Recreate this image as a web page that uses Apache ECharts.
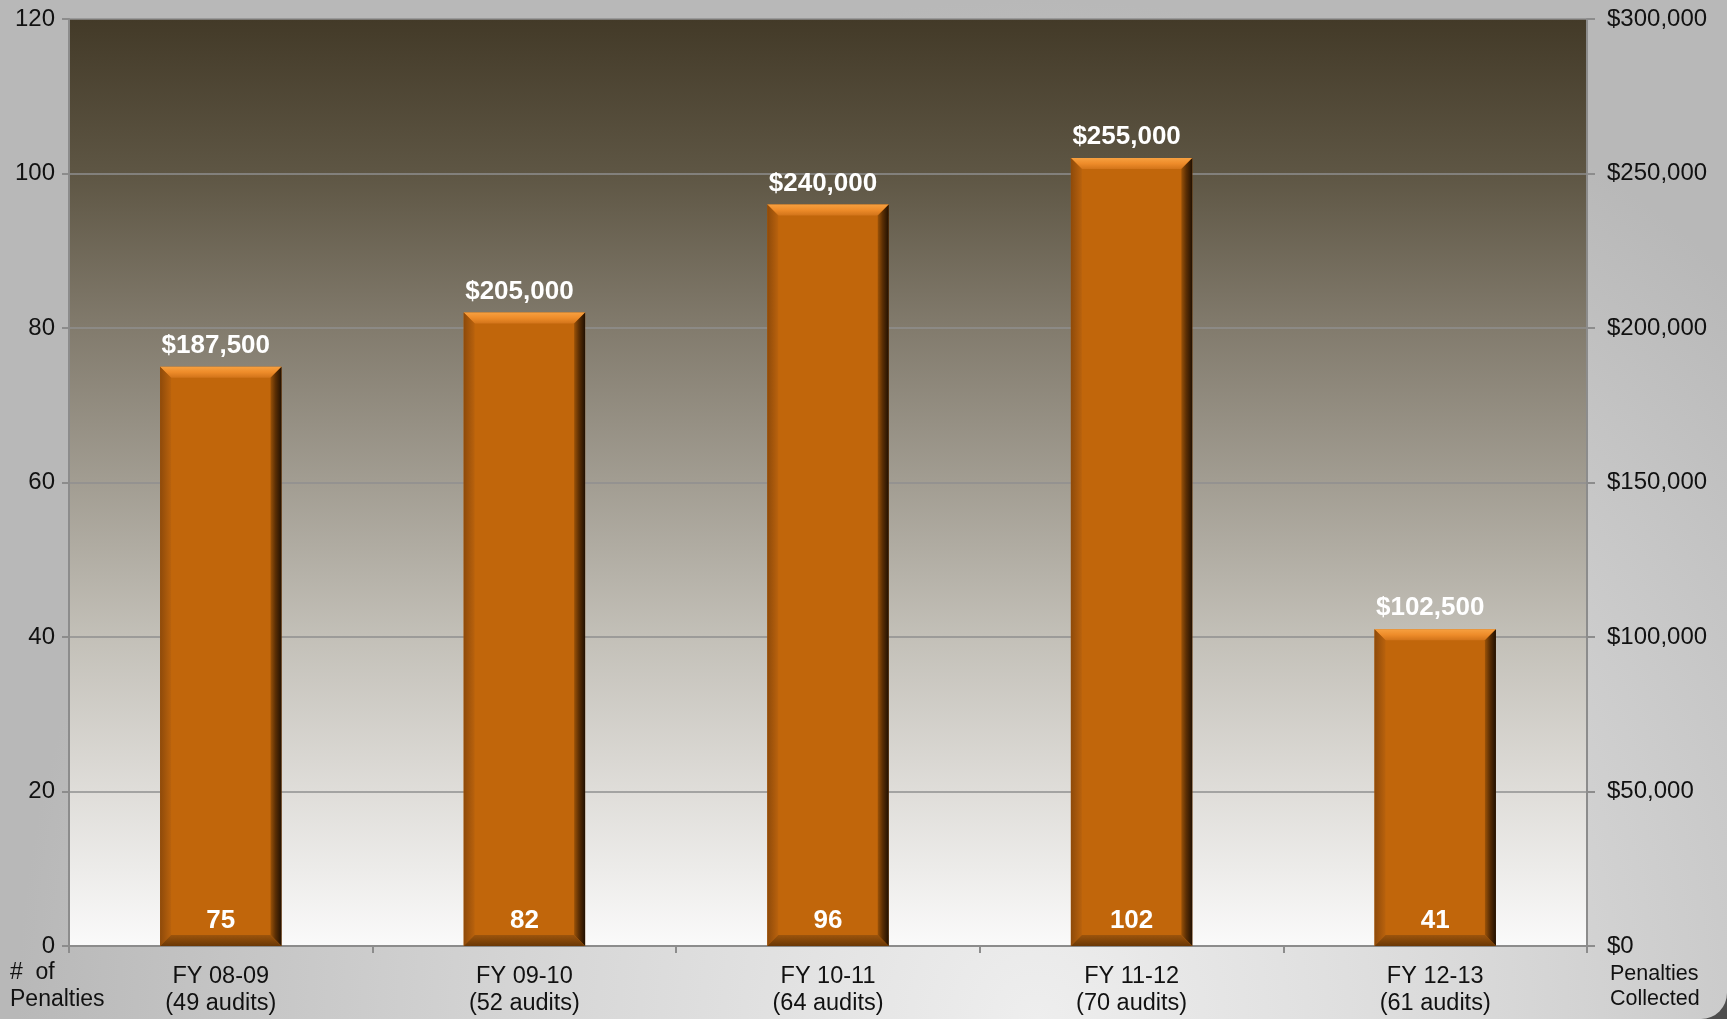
<!DOCTYPE html>
<html>
<head>
<meta charset="utf-8">
<title>Penalties by Fiscal Year</title>
<script src="https://cdn.jsdelivr.net/npm/echarts@6/dist/echarts.min.js"></script>
<style>
  html, body { margin: 0; padding: 0; background: #4e4e4e; }
  #chart { width: 1727px; height: 1019px; }
</style>
</head>
<body>
<div id="chart"></div>
<script>
// Fiscal years (with number of audits) on the category axis
const categories = ['FY 08-09\n(49 audits)', 'FY 09-10\n(52 audits)', 'FY 10-11\n(64 audits)', 'FY 11-12\n(70 audits)', 'FY 12-13\n(61 audits)'];
// Number of penalties per year (left axis)
const penaltyCounts = [75, 82, 96, 102, 41];
// Dollars collected per year (right axis)
const penaltiesCollected = [187500, 205000, 240000, 255000, 102500];
// Axis ranges
const countAxis = { min: 0, max: 120, interval: 20 };
const dollarAxis = { min: 0, max: 300000, interval: 50000 };

const FONT = '"Liberation Sans", Arial, sans-serif';

function money(v) {
  return '$' + Number(v).toLocaleString('en-US');
}

// Bevelled column: flat face plus four sloped edges
function renderBevelBar(params, api) {
  const idx = api.value(0);
  const val = api.value(1);
  const top = api.coord([idx, val]);
  const base = api.coord([idx, 0]);
  const w = api.size([1, 0])[0] * 0.4;
  const x0 = top[0] - w / 2, x1 = top[0] + w / 2;
  const y0 = top[1], y1 = base[1];
  const b = 11;
  return {
    type: 'group',
    children: [
      { type: 'rect', shape: { x: x0, y: y0, width: w, height: y1 - y0 },
        style: { fill: '#c1660b' } },
      { type: 'polygon', shape: { points: [[x0, y0], [x1, y0], [x1 - b, y0 + b], [x0 + b, y0 + b]] },
        style: { fill: new echarts.graphic.LinearGradient(0, 0, 0, 1, [
          { offset: 0, color: '#f7a040' }, { offset: 0.5, color: '#ee8c2a' }, { offset: 1, color: '#d2741a' }]) } },
      { type: 'polygon', shape: { points: [[x0, y0], [x0 + b, y0 + b], [x0 + b, y1 - b], [x0, y1]] },
        style: { fill: new echarts.graphic.LinearGradient(0, 0, 1, 0, [
          { offset: 0, color: '#8e4a0a' }, { offset: 1, color: '#b9620d' }]) } },
      { type: 'polygon', shape: { points: [[x1, y0], [x1, y1], [x1 - b, y1 - b], [x1 - b, y0 + b]] },
        style: { fill: new echarts.graphic.LinearGradient(0, 0, 1, 0, [
          { offset: 0, color: '#9a5208' }, { offset: 0.45, color: '#5a2e04' }, { offset: 1, color: '#201002' }]) } },
      { type: 'polygon', shape: { points: [[x0, y1], [x1, y1], [x1 - b, y1 - b], [x0 + b, y1 - b]] },
        style: { fill: new echarts.graphic.LinearGradient(0, 0, 0, 1, [
          { offset: 0, color: '#9c540c' }, { offset: 1, color: '#6a3806' }]) } },
      { type: 'text', x: top[0], y: y1 - 25,
        style: { text: String(val), fill: '#ffffff', font: 'bold 26px ' + FONT,
          align: 'center', verticalAlign: 'middle' } }
    ]
  };
}

const chart = echarts.init(document.getElementById('chart'), null, { renderer: 'canvas' });

chart.setOption({
  animation: false,
  backgroundColor: 'transparent',
  textStyle: { fontFamily: FONT },
  graphic: [
    {
      type: 'rect', z: -10, silent: true,
      shape: { x: 0, y: 0, width: 1727, height: 1019, r: [0, 0, 26, 0] },
      style: {
        fill: new echarts.graphic.RadialGradient(0.6, 1.0, 1.0, [
          { offset: 0, color: '#eeeeee' },
          { offset: 0.45, color: '#d8d8d8' },
          { offset: 0.8, color: '#c4c4c4' },
          { offset: 1, color: '#b8b8b8' }
        ])
      }
    },
    {
      type: 'text', left: 10, top: 959, z: 10,
      style: { text: '#  of\nPenalties', font: '23px ' + FONT, fill: '#111', lineHeight: 27, align: 'left' }
    },
    {
      type: 'text', left: 1610, top: 962, z: 10,
      style: { text: 'Penalties\nCollected', font: '21.5px ' + FONT, fill: '#111', lineHeight: 25, align: 'center' }
    }
  ],
  grid: {
    left: 69, right: 140, top: 19, bottom: 73,
    show: true, borderWidth: 0,
    backgroundColor: new echarts.graphic.LinearGradient(0, 0, 0, 1, [
      { offset: 0, color: '#433a28' },
      { offset: 0.167, color: '#5e5644' },
      { offset: 0.333, color: '#827b6d' },
      { offset: 0.5, color: '#a29d92' },
      { offset: 0.667, color: '#c3c0b8' },
      { offset: 0.833, color: '#dfddd9' },
      { offset: 1, color: '#fafafa' }
    ])
  },
  xAxis: {
    type: 'category',
    data: categories,
    axisLine: { lineStyle: { color: '#8c8c8c', width: 2 } },
    axisTick: { show: true, length: 7, lineStyle: { color: '#8c8c8c', width: 2 } },
    axisLabel: { color: '#111', fontSize: 23.5, lineHeight: 27, margin: 17, fontFamily: FONT }
  },
  yAxis: [
    {
      type: 'value', min: countAxis.min, max: countAxis.max, interval: countAxis.interval,
      axisLine: { show: true, lineStyle: { color: '#8c8c8c', width: 2 } },
      axisTick: { show: true, length: 7, lineStyle: { color: '#8c8c8c', width: 2 } },
      splitLine: { show: true, lineStyle: { color: '#8f8f8f', width: 1.5 } },
      axisLabel: { color: '#111', fontSize: 24, margin: 14, fontFamily: FONT }
    },
    {
      type: 'value', min: dollarAxis.min, max: dollarAxis.max, interval: dollarAxis.interval,
      position: 'right',
      axisLine: { show: true, lineStyle: { color: '#8c8c8c', width: 2 } },
      axisTick: { show: true, length: 8, lineStyle: { color: '#8c8c8c', width: 2 } },
      splitLine: { show: false },
      axisLabel: { color: '#111', fontSize: 24, margin: 20, fontFamily: FONT, formatter: money }
    }
  ],
  series: [
    {
      name: 'Penalties Collected',
      type: 'bar',
      yAxisIndex: 1,
      barWidth: '40%',
      data: penaltiesCollected,
      itemStyle: { color: 'rgba(0,0,0,0)' },
      label: {
        show: true, position: 'top', distance: 8, offset: [-5, 0],
        color: '#ffffff', fontWeight: 'bold', fontSize: 26, fontFamily: FONT,
        formatter: p => money(p.value)
      },
      z: 3
    },
    {
      name: '# of Penalties',
      type: 'custom',
      yAxisIndex: 0,
      renderItem: renderBevelBar,
      data: penaltyCounts.map((v, i) => [i, v]),
      encode: { x: 0, y: 1 },
      z: 2
    }
  ]
});
</script>
</body>
</html>
